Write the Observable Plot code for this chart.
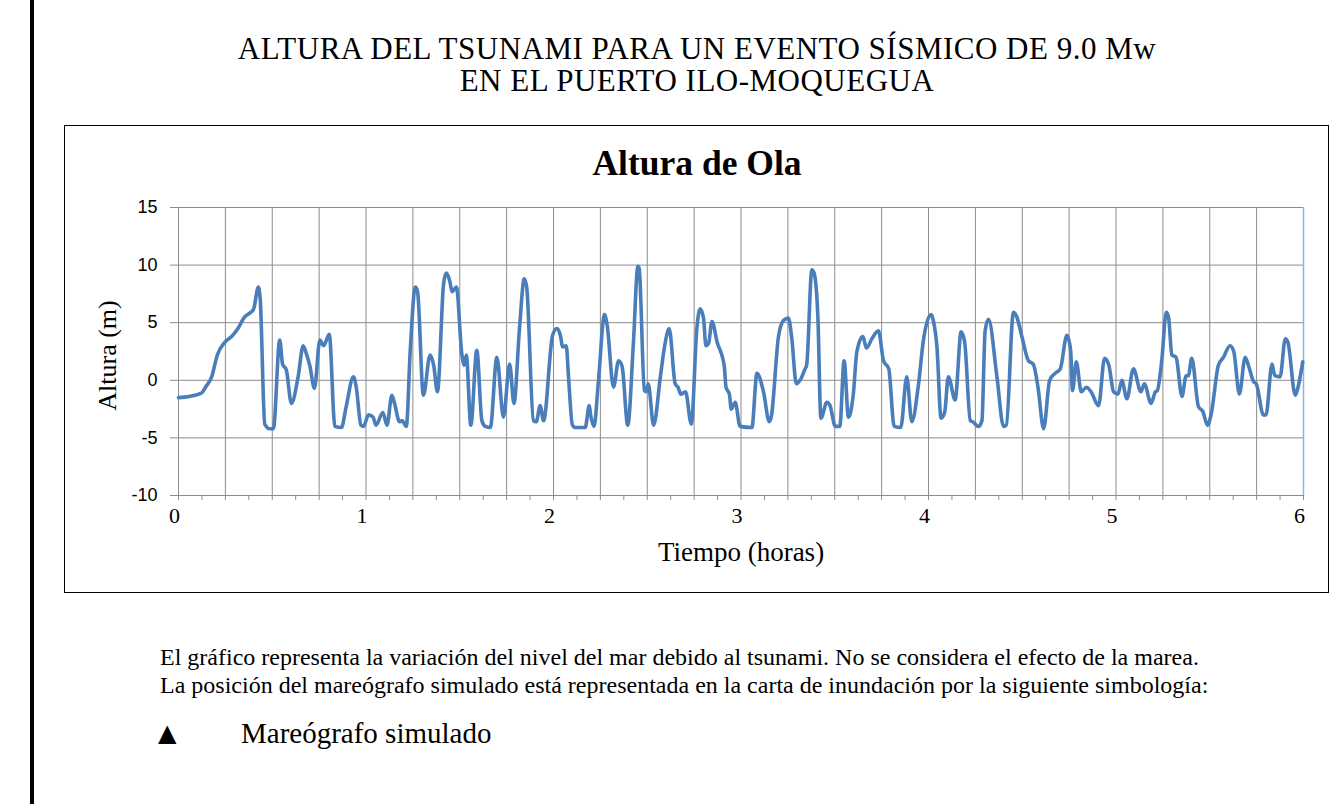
<!DOCTYPE html>
<html>
<head>
<meta charset="utf-8">
<script src="https://cdn.jsdelivr.net/npm/d3@7"></script>
<script src="https://cdn.jsdelivr.net/npm/@observablehq/plot@0.6"></script>
<style>
  html, body { margin: 0; padding: 0; background: #fff; }
  body { width: 1334px; height: 804px; position: relative; overflow: hidden; font-family: "Liberation Serif", "Times New Roman", serif; color: #000; }
  .abs { position: absolute; }
  #leftbar { left: 30px; top: 0; width: 4px; height: 804px; background: #000; }
  .title { left: 197px; width: 1000px; text-align: center; font-size: 31px; line-height: 31px; letter-spacing: 0.5px; white-space: nowrap; }
  #box { left: 64px; top: 125px; width: 1265px; height: 468px; border: 1.5px solid #000; box-sizing: border-box; }
  #charttitle { left: 397px; width: 600px; top: 143px; text-align: center; font-size: 35.5px; font-weight: bold; line-height: 40px; }
  #chart { left: 64px; top: 190px; }
  .note { left: 160px; font-size: 24px; line-height: 26px; white-space: nowrap; }
  #tri { left: 158px; top: 718px; font-family: "DejaVu Sans", sans-serif; font-size: 24px; line-height: 30px; }
  #legend { left: 241px; top: 716px; font-size: 29px; line-height: 34px; }
</style>
</head>
<body>
<div class="abs" id="leftbar"></div>
<div class="abs title" style="top:33px">ALTURA DEL TSUNAMI PARA UN EVENTO SÍSMICO DE 9.0 Mw</div>
<div class="abs title" style="top:65px">EN EL PUERTO ILO-MOQUEGUA</div>
<div class="abs" id="box"></div>
<div class="abs" id="charttitle">Altura de Ola</div>
<div class="abs" id="chart"></div>
<div class="abs note" style="top:644px">El gráfico representa la variación del nivel del mar debido al tsunami. No se considera el efecto de la marea.</div>
<div class="abs note" style="top:672px">La posición del mareógrafo simulado está representada en la carta de inundación por la siguiente simbología:</div>
<div class="abs" id="tri">▲</div>
<div class="abs" id="legend">Mareógrafo simulado</div>
<script>
// Time (hours)
const times = [
  0.000, 0.058, 0.123, 0.148, 0.177, 0.207, 0.247, 0.283, 0.317, 0.353, 0.386, 0.401, 0.426, 0.436,
  0.460, 0.486, 0.506, 0.540, 0.555, 0.575, 0.602, 0.638, 0.665, 0.682, 0.700, 0.725, 0.754, 0.774,
  0.804, 0.834, 0.869, 0.894, 0.933, 0.948, 0.973,
  0.987, 1.013, 1.038, 1.053, 1.090, 1.112, 1.138, 1.152, 1.179, 1.192, 1.215, 1.236, 1.263, 1.275,
  1.306, 1.342, 1.361, 1.381, 1.414, 1.428, 1.447, 1.459, 1.482, 1.511, 1.524, 1.535, 1.559, 1.591,
  1.618, 1.636, 1.663, 1.698, 1.733, 1.766, 1.789, 1.819, 1.844, 1.857, 1.893, 1.908, 1.929, 1.947,
  1.995, 2.018, 2.038, 2.048, 2.068, 2.080, 2.101, 2.117, 2.169, 2.191, 2.197, 2.216, 2.240, 2.272,
  2.286, 2.320, 2.347, 2.366, 2.396, 2.426, 2.450, 2.457, 2.485, 2.495, 2.505, 2.534, 2.570, 2.593,
  2.617, 2.649, 2.664, 2.679, 2.704, 2.735, 2.765, 2.782, 2.800, 2.813, 2.827, 2.845, 2.873, 2.911,
  2.920, 2.938, 2.948, 2.969, 2.995,
  3.058, 3.085, 3.120, 3.151, 3.161, 3.200, 3.227, 3.253, 3.271, 3.295, 3.315, 3.342, 3.350, 3.378,
  3.390, 3.410, 3.426, 3.458, 3.475, 3.503, 3.527, 3.550, 3.573, 3.599, 3.618, 3.650, 3.669, 3.698,
  3.733, 3.760, 3.788, 3.817, 3.852, 3.884, 3.911, 3.947, 3.973,
  4.014, 4.027, 4.045, 4.067, 4.086, 4.106, 4.142, 4.174, 4.193, 4.223, 4.236, 4.267, 4.285, 4.302,
  4.320, 4.365, 4.400, 4.415, 4.453, 4.471, 4.498, 4.533, 4.559, 4.584, 4.614, 4.646, 4.675, 4.703,
  4.738, 4.758, 4.768, 4.788, 4.815, 4.842, 4.867, 4.907, 4.939, 4.962, 4.987,
  5.011, 5.031, 5.058, 5.093, 5.133, 5.151, 5.187, 5.210, 5.220, 5.244, 5.268, 5.280, 5.298, 5.320,
  5.352, 5.374, 5.386, 5.404, 5.440, 5.463, 5.488, 5.508, 5.546, 5.573, 5.608, 5.628, 5.658, 5.689,
  5.708, 5.733, 5.748, 5.786, 5.800, 5.832, 5.847, 5.875, 5.903, 5.917, 5.956, 5.966, 5.996
];
// Wave height (m)
const heights = [
  -1.5, -1.4, -1.1, -0.5, 0.3, 2.2, 3.3, 3.8, 4.5, 5.5, 5.9, 6.2, 8.1, 7.0,
  -3.8, -4.2, -4.2, 3.5, 1.4, 0.9, -2.0, 0.3, 3.0, 2.3, 1.3, -0.7, 3.5, 3.0,
  4.0, -4.0, -4.1, -2.3, 0.3, -0.6, -3.9,
  -4.0, -3.0, -3.2, -3.9, -2.8, -3.9, -1.3, -2.0, -3.6, -3.5, -4.0, 2.6, 8.1, 7.7,
  -1.3, 2.2, 1.3, -1.0, 8.4, 9.3, 8.6, 7.7, 8.1, 2.3, 1.3, 2.2, -3.9, 2.6,
  -3.5, -4.0, -4.1, 2.0, -3.2, 1.4, -2.0, 4.6, 8.8, 8.1, -3.5, -3.6, -2.2, -3.5,
  3.9, 4.5, 3.8, 2.9, 3.0, 0.3, -3.9, -4.1, -4.1, -2.2, -2.9, -4.0, 0.0, 5.7,
  4.8, -0.6, 1.7, 1.2, -3.9, 3.2, 9.9, 9.7, -0.9, -1.0, -0.3, -3.9, 0.3, 3.0,
  4.5, -0.3, -0.6, -1.2, -1.0, -3.8, 4.6, 6.2, 5.4, 3.0, 3.2, 5.1, 3.3, 1.2,
  -0.6, -1.2, -2.5, -1.9, -4.0,
  -4.1, 0.6, -1.0, -3.6, -3.2, 3.8, 5.2, 5.4, 3.6, -0.3, 0.0, 1.0, 1.3, 9.6,
  9.3, 5.5, -3.3, -1.9, -2.2, -4.0, -4.0, 1.7, -3.2, -1.2, 2.5, 3.8, 2.8, 3.6,
  4.3, 1.7, 1.0, -4.0, -4.1, 0.3, -3.6, -0.3, 3.5,
  5.7, 5.1, 2.9, -3.3, -2.8, 0.3, -1.7, 4.2, 3.3, -3.5, -3.6, -4.0, -3.5, 4.3,
  5.3, 0.3, -4.0, -3.9, 5.9, 5.5, 3.8, 1.7, 1.4, -0.6, -4.2, 0.0, 0.6, 1.0,
  3.9, 2.6, -0.9, 1.6, -1.0, -0.6, -1.0, -2.2, 1.9, 1.3, -1.0,
  -1.2, 0.0, -1.6, 1.0, -1.0, -0.3, -2.0, -1.0, -0.9, 1.7, 5.9, 5.5, 2.2, 2.0,
  -1.4, 0.4, 0.4, 1.9, -2.3, -2.7, -3.9, -2.9, 1.3, 2.0, 3.0, 2.5, -1.2, 2.0,
  1.2, -0.1, -0.3, -3.0, -3.0, 1.4, 0.4, 0.3, 3.6, 3.3, -1.3, -0.9, 1.6
];
const yTicks = [-10, -5, 0, 5, 10, 15];
const xTicks = [0, 1, 2, 3, 4, 5, 6];
const xGrid = [0, 0.25, 0.5, 0.75, 1, 1.25, 1.5, 1.75, 2, 2.25, 2.5, 2.75, 3, 3.25, 3.5, 3.75, 4, 4.25, 4.5, 4.75, 5, 5.25, 5.5, 5.75, 6];
const xMinor = d3.range(0, 6.0001, 0.125);
const xLabel = "Tiempo (horas)";
const yLabel = "Altura (m)";

const data = times.map((t, i) => ({t, h: heights[i]}));
const grid = "#8c8c8c";
const serif = "Liberation Serif";

const chart = Plot.plot({
  width: 1265,
  height: 400,
  marginLeft: 114,
  marginRight: 26,
  marginTop: 17,
  marginBottom: 95,
  x: {domain: [0, 6]},
  y: {domain: [-10, 15]},
  style: {background: "transparent", overflow: "visible"},
  marks: [
    Plot.ruleY(yTicks, {stroke: grid, strokeWidth: 1}),
    Plot.ruleX(xGrid, {stroke: grid, strokeWidth: 1}),
    Plot.ruleX([6], {stroke: "#95b3d7", strokeWidth: 1.5}),
    Plot.axisY({ticks: yTicks, tickSize: 8, tickPadding: 13, stroke: grid, fill: "#000",
      tickFormat: d => String(d), fontFamily: "Liberation Sans", fontSize: 18, label: null}),
    Plot.axisX({ticks: xMinor, tickSize: 5, tickFormat: () => "", stroke: grid, label: null}),
    Plot.axisX({ticks: xTicks, tickSize: 0, tickPadding: 12, fill: "#000", dx: -4,
      tickFormat: d => String(d), fontFamily: serif, fontSize: 22, label: null}),
    Plot.line(data, {x: "t", y: "h", stroke: "#4a7ebb", strokeWidth: 3.6,
      strokeLinejoin: "round", curve: "monotone-x"}),
    Plot.text([xLabel], {text: d => d, frameAnchor: "bottom", lineAnchor: "middle", dy: 57,
      fontFamily: serif, fontSize: 27, fill: "#000"}),
    Plot.text([yLabel], {text: d => d, frameAnchor: "left", textAnchor: "middle", lineAnchor: "middle",
      rotate: -90, dx: -71, dy: 4, fontFamily: serif, fontSize: 26, fill: "#000"})
  ]
});
document.getElementById("chart").appendChild(chart);
</script>
</body>
</html>
